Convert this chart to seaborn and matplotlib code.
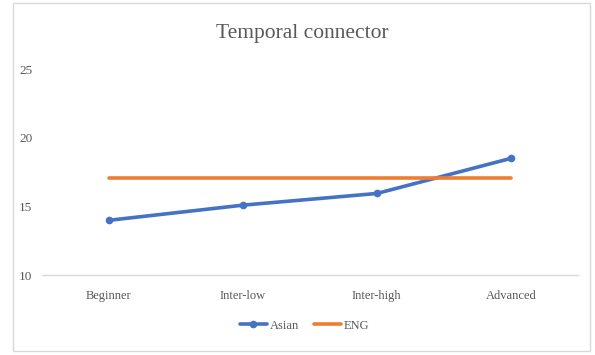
import matplotlib
matplotlib.use("Agg")
import matplotlib.pyplot as plt
import seaborn as sns
import pandas as pd
from matplotlib.patches import Rectangle

# Data
levels = ["Beginner", "Inter-low", "Inter-high", "Advanced"]
asian = [14.0, 15.1, 15.95, 18.5]
eng = [17.1, 17.1, 17.1, 17.1]
y_ticks = [10, 15, 20, 25]

sns.set_theme(style="white")
plt.rcParams["font.family"] = ["Liberation Serif", "DejaVu Serif"]

df = pd.DataFrame({
    "level": levels * 2,
    "value": asian + eng,
    "series": ["Asian"] * 4 + ["ENG"] * 4,
})

fig = plt.figure(figsize=(5.95, 3.55), dpi=100)
ax = fig.add_axes([0.0706, 0.2245, 0.9004, 0.5811])

palette = {"Asian": "#4472C4", "ENG": "#ED7D31"}
sns.lineplot(data=df[df.series == "Asian"], x="level", y="value", color=palette["Asian"],
             lw=2.6, marker="o", markersize=5.5, markeredgewidth=0, sort=False, ax=ax,
             label="Asian")
sns.lineplot(data=df[df.series == "ENG"], x="level", y="value", color=palette["ENG"],
             lw=2.6, sort=False, ax=ax, label="ENG")

ax.set_xlim(-0.5, 3.5)
ax.set_ylim(10, 25)
ax.set_yticks(y_ticks)
ax.set_xlabel("")
ax.set_ylabel("")
for s in ["top", "right", "left"]:
    ax.spines[s].set_visible(False)
ax.spines["bottom"].set_color("#D9D9D9")
ax.spines["bottom"].set_linewidth(1.0)
ax.tick_params(axis="both", length=0, colors="#595959")
ax.tick_params(axis="y", pad=7, labelsize=9.5)
ax.tick_params(axis="x", pad=10.5, labelsize=9)

fig.text(0.508, 0.905, "Temporal connector", ha="center", va="center",
         fontsize=15.5, color="#595959")

leg = ax.legend(loc="center", bbox_to_anchor=(0.49, -0.245), ncol=2, frameon=False,
                fontsize=9, handlelength=2.2, handletextpad=0.2, columnspacing=1.2)
for t in leg.get_texts():
    t.set_color("#595959")

# Chart border
fig.patches.append(Rectangle((13 / 595, 1 - 351 / 355), 577 / 595, 348 / 355,
                             transform=fig.transFigure, fill=False,
                             edgecolor="#D9D9D9", lw=1.0))

fig.savefig("out.png", dpi=100)
